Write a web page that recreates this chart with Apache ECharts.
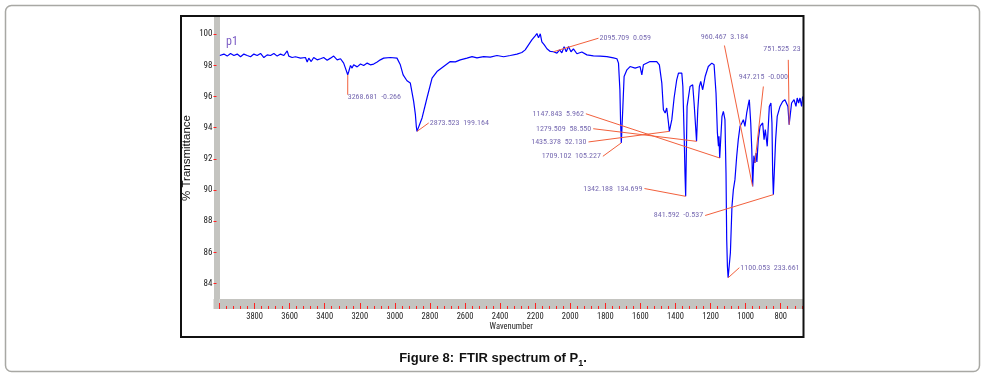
<!DOCTYPE html>
<html>
<head>
<meta charset="utf-8">
<title>FTIR spectrum of P1</title>
<script src="https://cdn.jsdelivr.net/npm/echarts@6/dist/echarts.min.js"></script>
<style>
  html, body { margin: 0; padding: 0; background: #fff; }
  #ftir { width: 986px; height: 381px; }
</style>
</head>
<body>
<div id="ftir"></div>
<script>
// p1 spectrum: wavenumber (cm-1) / %T
const wavenumbers = [
  3998, 3975, 3956, 3937, 3918, 3899, 3880, 3861, 3842, 3823, 3804, 3785, 3766, 3747, 3728, 3709,
  3690, 3671, 3652, 3633, 3614, 3605, 3586, 3567, 3538, 3510, 3500, 3491, 3477, 3463, 3443, 3424,
  3406, 3386, 3367, 3349, 3329, 3310, 3292, 3282, 3269, 3263, 3253, 3244, 3235, 3215, 3196, 3178,
  3158, 3140, 3121, 3101, 3083, 3064, 3026, 2988, 2969, 2953, 2931, 2912, 2893, 2883, 2878, 2874,
  2845, 2817, 2788, 2760, 2722, 2684, 2655, 2627, 2589, 2560, 2532, 2494, 2456, 2418, 2380, 2342,
  2304, 2276, 2257, 2238, 2219, 2200, 2190, 2181, 2171, 2162, 2148, 2133, 2114, 2096, 2076, 2061,
  2048, 2035, 2023, 2010, 1996, 1982, 1962, 1934, 1905, 1868, 1830, 1791, 1754, 1734, 1725, 1717,
  1713, 1709, 1700, 1693, 1677, 1659, 1630, 1602, 1592, 1583, 1545, 1507, 1492, 1478, 1469, 1459,
  1450, 1440, 1435, 1421, 1408, 1393, 1383, 1364, 1358, 1350, 1346, 1342, 1334, 1317, 1302, 1294,
  1280, 1273, 1264, 1256, 1245, 1231, 1213, 1193, 1180, 1169, 1161, 1155, 1152, 1148, 1135, 1127,
  1118, 1112, 1108, 1104, 1100, 1087, 1078, 1070, 1061, 1051, 1042, 1032, 1022, 1013, 1004, 994,
  985, 979, 971, 965, 960, 953, 947, 941, 936, 928, 918, 903, 895, 888, 877, 865,
  856, 850, 846, 842, 829, 820, 804, 789, 776, 766, 759, 752, 738, 724, 713, 706,
  698, 690, 681, 675
];
const transmittance = [
  98.63, 98.72, 98.59, 98.76, 98.63, 98.72, 98.55, 98.72, 98.63, 98.55, 98.72, 98.63, 98.76, 98.50, 98.67, 98.63,
  98.76, 98.59, 98.72, 98.63, 98.93, 98.59, 98.50, 98.55, 98.46, 98.50, 98.21, 98.46, 98.24, 98.50, 98.35, 98.42,
  98.50, 98.33, 98.46, 98.59, 98.35, 98.42, 98.14, 97.82, 97.39, 97.60, 97.99, 97.82, 98.03, 97.90, 98.08, 97.99,
  98.14, 98.03, 98.08, 98.21, 98.35, 98.46, 98.50, 98.46, 98.03, 97.39, 97.01, 96.86, 95.68, 94.83, 94.10, 93.76,
  94.62, 95.90, 97.18, 97.60, 97.92, 98.24, 98.22, 98.35, 98.46, 98.56, 98.48, 98.56, 98.53, 98.63, 98.55, 98.63,
  98.72, 98.82, 98.99, 99.31, 99.63, 99.89, 100.04, 99.76, 100.02, 99.51, 99.31, 99.06, 98.89, 98.87, 98.78, 98.99,
  98.80, 99.19, 98.87, 99.21, 98.87, 99.06, 98.74, 98.85, 98.67, 98.61, 98.59, 98.56, 98.48, 98.42, 98.14, 96.43,
  94.30, 93.02, 95.36, 97.28, 97.71, 97.92, 97.82, 97.92, 97.39, 98.03, 98.24, 98.24, 98.03, 96.86, 95.15, 94.94,
  95.26, 94.30, 93.76, 94.51, 95.90, 97.07, 97.50, 97.50, 96.64, 93.23, 91.09, 89.59, 95.36, 96.64, 96.75, 95.58,
  93.12, 95.15, 96.64, 96.96, 96.43, 97.28, 97.92, 98.14, 98.03, 96.22, 93.66, 92.80, 93.44, 92.05, 94.72, 95.04,
  94.51, 91.09, 86.82, 85.11, 84.36, 85.97, 88.95, 90.02, 90.66, 92.16, 93.23, 94.08, 94.30, 94.51, 94.08, 94.94,
  95.47, 95.79, 94.30, 92.59, 90.23, 92.20, 91.73, 92.37, 91.80, 93.23, 94.08, 94.30, 93.23, 93.87, 92.80, 95.36,
  95.58, 94.30, 91.09, 89.70, 93.23, 94.72, 95.36, 95.68, 95.79, 95.68, 95.36, 94.19, 95.58, 95.79, 95.36, 95.90,
  95.58, 95.90, 95.36, 96.00
];

const xTickLabels = [3800, 3600, 3400, 3200, 3000, 2800, 2600, 2400, 2200, 2000, 1800, 1600, 1400, 1200, 1000, 800];
const xMajorTicks = [4000, 3800, 3600, 3400, 3200, 3000, 2800, 2600, 2400, 2200, 2000, 1800, 1600, 1400, 1200, 1000, 800];
const yTickLabels = [84, 86, 88, 90, 92, 94, 96, 98, 100];

// peak picks as printed on the figure
const peakWavenumbers = ['3268.681', '2873.523', '2095.709', '1147.843', '1279.509', '1435.378', '1709.102',
  '1342.188', '841.592', '1100.053', '960.467', '947.215', '751.525'];
const peakIntensities = ['-0.266', '199.164', '0.059', '5.962', '58.550', '52.130', '105.227',
  '134.699', '-0.537', '233.661', '3.184', '-0.000', '23.6'];
const peakTransmittance = [97.39, 93.76, 98.87, 92.05, 93.12, 93.76, 93.02, 89.59, 89.70, 84.36, 90.23, 91.73, 94.19];

// far end of each leader line (axis units) and the side its text sits on
const calloutAnchors = [[3269, 96.11], [2807, 94.30], [1839, 99.74], [1911, 94.89], [1869, 93.93], [1896, 93.08],
  [1814, 92.16], [1577, 90.09], [1231, 88.36], [1036, 85.01], [1121, 99.27], [899, 96.64], [757, 98.35]];
const calloutSides = ['under', 'right', 'right', 'left', 'left', 'left', 'left', 'left', 'left', 'right', 'top', 'top', 'clip'];

// squeezed sans for the instrument-style labels (Roboto has a condensed width)
const narrow = { fontFamily: 'Roboto', fontStyle: 'condensed' };
const arial = 'Liberation Sans, Arial, sans-serif';
const gray = '#c4c4c0';

let minorTicks = [];
for (let v = 680; v < 4000; v += 40) {
  if (v % 200 !== 0) minorTicks.push(v);
}

function calloutLabel(side) {
  switch (side) {
    case 'right': return { position: 'right', distance: 1 };
    case 'left': return { position: 'left', distance: 2 };
    case 'top': return { position: 'top', distance: 5 };
    case 'under': return { position: [0, -2], align: 'left', verticalAlign: 'top' };
    default: return { position: [-25, -7], align: 'left', verticalAlign: 'bottom', width: 40, overflow: 'truncate', ellipsis: '' };
  }
}

const spectrum = wavenumbers.map((w, i) => [w, transmittance[i]]);
const leaders = peakWavenumbers.map((w, i) => ({
  coords: [[parseFloat(w), peakTransmittance[i]], calloutAnchors[i]]
}));
const callouts = calloutAnchors.map((a, i) => ({
  value: a,
  label: Object.assign({ formatter: peakWavenumbers[i] + '  ' + peakIntensities[i] }, calloutLabel(calloutSides[i]))
}));

const xBase = { type: 'value', min: 673, max: 4000, inverse: true, position: 'bottom', splitLine: { show: false } };

const chart = echarts.init(document.getElementById('ftir'));
const option = {
  animation: false,
  backgroundColor: '#fff',
  title: {
    left: 'center',
    top: 343,
    text: '{b|Figure 8:} {n|FTIR spectrum of P}{s|1}{n|.}',
    textStyle: {
      rich: {
        b: { fontFamily: arial, fontSize: 13, fontWeight: 'bold', color: '#111', lineHeight: 20 },
        n: { fontFamily: arial, fontSize: 13, color: '#111', lineHeight: 20 },
        s: { fontFamily: arial, fontSize: 9, color: '#111', lineHeight: 10, verticalAlign: 'bottom' }
      }
    }
  },
  legend: {
    data: [{ name: 'p1', icon: 'none' }],
    left: 216,
    top: 30,
    itemWidth: 0,
    textStyle: Object.assign({ color: '#7b5cc4', fontSize: 12 }, narrow)
  },
  graphic: [
    { type: 'rect', shape: { x: 5.5, y: 5.5, width: 974, height: 366, r: 6 }, style: { fill: null, stroke: '#a8a8a4', lineWidth: 1.5 }, silent: true },
    { type: 'rect', shape: { x: 181, y: 16, width: 622.5, height: 321 }, style: { fill: null, stroke: '#111', lineWidth: 2 }, silent: true, z: 10 },
    { type: 'rect', shape: { x: 213.5, y: 299, width: 6, height: 10 }, style: { fill: gray }, silent: true }
  ],
  grid: { left: 219.5, right: 183, top: 17, bottom: 82 },
  xAxis: [
    Object.assign({}, xBase, {
      offset: 5,
      name: 'Wavenumber',
      nameLocation: 'middle',
      nameGap: 18,
      nameMoveOverlap: false,
      nameTextStyle: Object.assign({ color: '#222', fontSize: 8.5 }, narrow),
      axisLine: { show: true, lineStyle: { color: gray, width: 10, cap: 'butt' } },
      axisTick: { show: false },
      axisLabel: Object.assign({ customValues: xTickLabels, margin: 8, color: '#222', fontSize: 8.5, formatter: v => String(v) }, narrow)
    }),
    Object.assign({}, xBase, {
      offset: 10,
      axisLine: { show: false },
      axisLabel: { show: false },
      axisTick: { show: true, inside: true, length: 6, customValues: xMajorTicks, lineStyle: { color: '#ff2020' } }
    }),
    Object.assign({}, xBase, {
      offset: 10,
      axisLine: { show: false },
      axisLabel: { show: false },
      axisTick: { show: true, inside: true, length: 3, customValues: minorTicks, lineStyle: { color: '#ff2020' } }
    })
  ],
  yAxis: {
    type: 'value',
    min: 83,
    max: 101.1,
    offset: 3,
    name: '% Transmittance',
    nameLocation: 'middle',
    nameGap: 24,
    nameMoveOverlap: false,
    nameTextStyle: { color: '#111', fontSize: 11.5, fontFamily: arial },
    splitLine: { show: false },
    axisLine: { show: true, lineStyle: { color: gray, width: 6, cap: 'butt' } },
    axisTick: { show: true, length: 3, customValues: yTickLabels, lineStyle: { color: '#ff2020' } },
    axisLabel: Object.assign({ customValues: yTickLabels, margin: 4, color: '#222', fontSize: 9 }, narrow)
  },
  series: [
    {
      name: 'p1',
      type: 'line',
      data: spectrum,
      showSymbol: false,
      lineStyle: { color: '#0000ff', width: 1.2 },
      itemStyle: { color: '#0000ff' },
      z: 3
    },
    {
      name: 'leaders',
      type: 'lines',
      coordinateSystem: 'cartesian2d',
      data: leaders,
      lineStyle: { color: '#f2603c', width: 1, opacity: 1 },
      silent: true,
      z: 4
    },
    {
      name: 'callouts',
      type: 'scatter',
      data: callouts,
      symbolSize: 0,
      itemStyle: { color: 'transparent' },
      label: Object.assign({ show: true, color: '#54449e', fontSize: 8 }, narrow),
      silent: true,
      z: 5
    }
  ]
};
chart.setOption(option);
</script>
</body>
</html>
